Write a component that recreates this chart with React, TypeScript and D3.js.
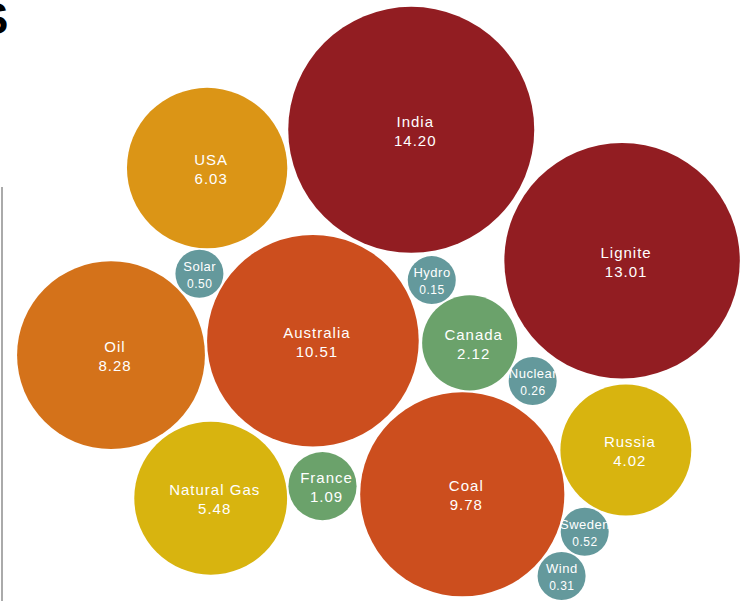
import React, { useMemo } from "react";
import * as d3 from "d3";

const names = ["India", "Lignite", "USA", "Solar", "Oil", "Australia", "Hydro", "Canada", "Nuclear", "Russia", "Natural Gas", "France", "Coal", "Sweden", "Wind"];
const values = [14.2, 13.01, 6.03, 0.5, 8.28, 10.51, 0.15, 2.12, 0.26, 4.02, 5.48, 1.09, 9.78, 0.52, 0.31];
const groups = ["red", "red", "gold", "teal", "oil", "rust", "teal", "green", "teal", "mustard", "mustard", "green", "rust", "teal", "teal"];
// layout seeds in normalized plot space (0..1)
const seedX = [0.552, 0.835, 0.278, 0.268, 0.149, 0.42, 0.581, 0.63, 0.715, 0.839, 0.283, 0.432, 0.621, 0.784, 0.754];
const seedY = [0.216, 0.434, 0.28, 0.451, 0.591, 0.567, 0.469, 0.571, 0.634, 0.749, 0.829, 0.809, 0.822, 0.885, 0.958];

const W = 745;
const H = 601;
const FONT = "Liberation Sans, Arial, sans-serif";

const colors: Record<string, string> = {
  red: "#921D22",
  gold: "#DB9516",
  oil: "#D4721A",
  rust: "#CC4E1E",
  mustard: "#D8B40F",
  green: "#6BA26B",
  teal: "#64999C",
};

export default function App() {
  const nodes = useMemo(() => {
    const x = d3.scaleLinear().domain([0, 1]).range([0, W]);
    const y = d3.scaleLinear().domain([0, 1]).range([0, H]);
    const r = d3.scaleSqrt().domain([0, d3.max(values) as number]).range([0, 123]);
    const ns = names.map((n, i) => ({
      name: n,
      value: values[i],
      group: groups[i],
      r: Math.max(24, r(values[i])),
      tx: x(seedX[i]),
      ty: y(seedY[i]),
      x: x(seedX[i]),
      y: y(seedY[i]),
    }));
    const sim = d3
      .forceSimulation(ns as any)
      .force("x", d3.forceX((d: any) => d.tx).strength(0.6))
      .force("y", d3.forceY((d: any) => d.ty).strength(0.6))
      .force("collide", d3.forceCollide((d: any) => d.r + 1).strength(0.4))
      .stop();
    for (let i = 0; i < 120; i++) sim.tick();
    return ns;
  }, []);

  return (
    <div style={{ position: "absolute", left: 0, top: 0 }}>
      <svg width={W} height={H} style={{ display: "block" }}>
        <rect width={W} height={H} fill="#fff" />
        <line x1={2} x2={2} y1={187} y2={H} stroke="#aaa" strokeWidth={2} />
        <text x={-21} y={34} fontSize={44} fontWeight="bold" fontFamily={FONT} fill="#000">S</text>
        {nodes.map((d) => {
          const small = d.r < 30;
          const fs = small ? 13 : 15;
          const fv = small ? 12 : 15;
          const ls = small ? 0.5 : 1;
          const dx = small ? ls / 2 : 4;
          return (
            <g key={d.name} transform={`translate(${d.x},${d.y})`}>
              <circle r={d.r} fill={colors[d.group]} />
              <text x={dx} y={-3} textAnchor="middle" fill="#fff" fontSize={fs} letterSpacing={ls} fontFamily={FONT}>{d.name}</text>
              <text x={dx} y={small ? 14 : 16} textAnchor="middle" fill="#fff" fontSize={fv} letterSpacing={ls} fontFamily={FONT}>{d.value.toFixed(2)}</text>
            </g>
          );
        })}
      </svg>
    </div>
  );
}
